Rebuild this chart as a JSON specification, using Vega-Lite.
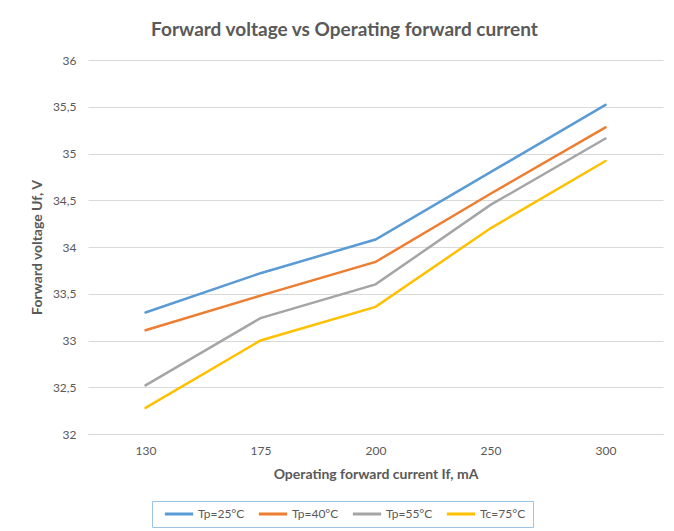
{
  "$schema": "https://vega.github.io/schema/vega-lite/v6.json",
  "width": 575,
  "height": 374,
  "autosize": {"type": "none"},
  "padding": {"left": 88, "top": 60, "right": 11, "bottom": 97},
  "background": "white",
  "title": {
    "text": "Forward voltage vs Operating forward current",
    "font": "Lato",
    "fontSize": 19,
    "fontWeight": "bold",
    "color": "#595959",
    "anchor": "middle",
    "dx": -31,
    "offset": 14
  },
  "data": {
    "values": [
      {"current": 130, "series": "Tp=25°C", "voltage": 33.30},
      {"current": 175, "series": "Tp=25°C", "voltage": 33.72},
      {"current": 200, "series": "Tp=25°C", "voltage": 34.08},
      {"current": 250, "series": "Tp=25°C", "voltage": 34.80},
      {"current": 300, "series": "Tp=25°C", "voltage": 35.52},
      {"current": 130, "series": "Tp=40°C", "voltage": 33.11},
      {"current": 175, "series": "Tp=40°C", "voltage": 33.48},
      {"current": 200, "series": "Tp=40°C", "voltage": 33.84},
      {"current": 250, "series": "Tp=40°C", "voltage": 34.57},
      {"current": 300, "series": "Tp=40°C", "voltage": 35.28},
      {"current": 130, "series": "Tp=55°C", "voltage": 32.52},
      {"current": 175, "series": "Tp=55°C", "voltage": 33.24},
      {"current": 200, "series": "Tp=55°C", "voltage": 33.60},
      {"current": 250, "series": "Tp=55°C", "voltage": 34.45},
      {"current": 300, "series": "Tp=55°C", "voltage": 35.16},
      {"current": 130, "series": "Tc=75°C", "voltage": 32.28},
      {"current": 175, "series": "Tc=75°C", "voltage": 33.00},
      {"current": 200, "series": "Tc=75°C", "voltage": 33.36},
      {"current": 250, "series": "Tc=75°C", "voltage": 34.20},
      {"current": 300, "series": "Tc=75°C", "voltage": 34.92}
    ]
  },
  "mark": {"type": "line", "strokeWidth": 2.5, "strokeCap": "round"},
  "encoding": {
    "x": {
      "field": "current",
      "type": "ordinal",
      "scale": {"type": "point", "padding": 0.5},
      "axis": {
        "title": "Operating forward current If, mA",
        "labelAngle": 0,
        "labelFont": "Lato",
        "labelFontSize": 12,
        "labelColor": "#595959",
        "labelPadding": 11,
        "ticks": false,
        "domainColor": "#D9D9D9",
        "titleFont": "Lato",
        "titleFontSize": 14,
        "titleFontWeight": "bold",
        "titleColor": "#595959",
        "titlePadding": 11
      }
    },
    "y": {
      "field": "voltage",
      "type": "quantitative",
      "scale": {"domain": [32, 36], "nice": false, "zero": false},
      "axis": {
        "title": "Forward voltage Uf, V",
        "values": [32, 32.5, 33, 33.5, 34, 34.5, 35, 35.5, 36],
        "labelExpr": "replace(format(datum.value, '.1~f'), '.', ',')",
        "labelFont": "Lato",
        "labelFontSize": 12,
        "labelColor": "#595959",
        "labelPadding": 12,
        "ticks": false,
        "domain": false,
        "grid": true,
        "gridColor": "#D9D9D9",
        "titleFont": "Lato",
        "titleFontSize": 14,
        "titleFontWeight": "bold",
        "titleColor": "#595959",
        "titlePadding": 8
      }
    },
    "color": {
      "field": "series",
      "type": "nominal",
      "sort": ["Tp=25°C", "Tp=40°C", "Tp=55°C", "Tc=75°C"],
      "scale": {
        "domain": ["Tp=25°C", "Tp=40°C", "Tp=55°C", "Tc=75°C"],
        "range": ["#5B9BD5", "#ED7D31", "#A5A5A5", "#FFC000"]
      },
      "legend": {
        "title": null,
        "orient": "none",
        "legendX": 64,
        "legendY": 441,
        "direction": "horizontal",
        "columns": 4,
        "symbolType": "stroke",
        "symbolSize": 800,
        "symbolStrokeWidth": 3,
        "symbolOffset": 4,
        "clipHeight": 12,
        "labelFont": "Lato",
        "labelFontSize": 12,
        "labelColor": "#595959",
        "labelOffset": 3,
        "columnPadding": 8,
        "padding": 7,
        "strokeColor": "#9DC3E6",
        "fillColor": "white"
      }
    }
  },
  "config": {"view": {"stroke": null}}
}
